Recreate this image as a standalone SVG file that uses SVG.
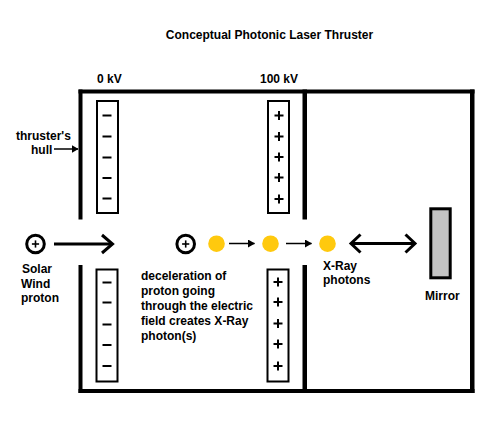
<svg xmlns="http://www.w3.org/2000/svg" width="502" height="422" viewBox="0 0 502 422">
<style>
text{font-family:"Liberation Sans",Arial,sans-serif;font-weight:bold;font-size:12px;fill:#000}
.wall{fill:#000}
.elec{fill:#fff;stroke:#000;stroke-width:2}
.sign{stroke:#000;stroke-width:2;fill:none}
.proton{fill:#fff;stroke:#000;stroke-width:3}
.photon{fill:#FFC90E}
.thick{stroke:#000;stroke-width:3;fill:none}
.thin{stroke:#000;stroke-width:1.5;fill:none}
</style>
<defs>
<g id="minus"><line class="sign" x1="-4.5" y1="0" x2="4.5" y2="0"/></g>
<g id="plus"><line class="sign" x1="-4.5" y1="0" x2="4.5" y2="0"/><line class="sign" x1="0" y1="-4.5" x2="0" y2="4.5"/></g>
<marker id="tri" markerWidth="7" markerHeight="8" refX="6.5" refY="4" orient="auto" markerUnits="userSpaceOnUse"><path d="M0,0 L7,4 L0,8 Z" fill="#000"/></marker>
</defs>
<rect width="502" height="422" fill="#fff"/>
<text x="269.5" y="38.5" text-anchor="middle">Conceptual Photonic Laser Thruster</text>

<g id="hull">
<rect class="wall" x="78.5" y="89.5" width="396" height="4"/>
<rect class="wall" x="78.5" y="389" width="396" height="4"/>
<rect class="wall" x="470" y="89.5" width="4.5" height="303.5"/>
<rect class="wall" x="78.5" y="89.5" width="4" height="130"/>
<rect class="wall" x="78.5" y="265" width="4" height="128"/>
<rect class="wall" x="302.5" y="89.5" width="4.5" height="130"/>
<rect class="wall" x="302.5" y="265" width="4.5" height="128"/>
</g>

<g id="label-0kv"><text x="97" y="83">0 kV</text></g>
<g id="label-100kv"><text x="260" y="83">100 kV</text></g>

<g id="electrode-neg-top">
<rect class="elec" x="97" y="101" width="21" height="112"/>
<use href="#minus" x="107" y="115.5"/><use href="#minus" x="107" y="136.5"/><use href="#minus" x="107" y="157.5"/><use href="#minus" x="107" y="178"/><use href="#minus" x="107" y="198.5"/>
</g>
<g id="electrode-pos-top">
<rect class="elec" x="268" y="101" width="21" height="112"/>
<use href="#plus" x="279" y="115.5"/><use href="#plus" x="279" y="136.5"/><use href="#plus" x="279" y="157"/><use href="#plus" x="279" y="177.5"/><use href="#plus" x="279" y="199"/>
</g>
<g id="electrode-neg-bottom">
<rect class="elec" x="96.5" y="269.5" width="21" height="112"/>
<use href="#minus" x="107" y="282.5"/><use href="#minus" x="107" y="302.5"/><use href="#minus" x="107" y="324.5"/><use href="#minus" x="107" y="345"/><use href="#minus" x="107" y="366"/>
</g>
<g id="electrode-pos-bottom">
<rect class="elec" x="267.5" y="269.5" width="21" height="112"/>
<use href="#plus" x="278" y="282"/><use href="#plus" x="278" y="302"/><use href="#plus" x="278" y="323.5"/><use href="#plus" x="278" y="344"/><use href="#plus" x="278" y="366"/>
</g>

<g id="hull-label">
<text x="16" y="140">thruster's</text>
<text x="31" y="154">hull</text>
</g>

<g id="solar-proton">
<circle class="proton" cx="35.5" cy="244" r="8.8"/>
<use href="#plus" x="35.5" y="244" transform="translate(35.5 244) scale(0.8) translate(-35.5 -244)"/>
<text x="22" y="273">Solar</text>
<text x="21" y="288">Wind</text>
<text x="21" y="302">proton</text>
</g>

<g id="proton-2">
<circle class="proton" cx="185.7" cy="244" r="8.8"/>
<use href="#plus" x="185.7" y="244" transform="translate(185.7 244) scale(0.8) translate(-185.7 -244)"/>
</g>

<g id="photon-1"><circle class="photon" cx="216.5" cy="243.7" r="8.3"/></g>
<g id="photon-2"><circle class="photon" cx="270.5" cy="243.7" r="8.3"/></g>
<g id="photon-3"><circle class="photon" cx="327.5" cy="243.7" r="8.3"/></g>

<g id="mirror">
<rect x="430.8" y="208.8" width="19.4" height="69" fill="#C3C3C3" stroke="#000" stroke-width="3"/>
<text x="425" y="300">Mirror</text>
</g>

<g id="xray-label">
<text x="323" y="270">X-Ray</text>
<text x="323" y="284">photons</text>
</g>

<g id="decel-label">
<text x="141" y="280">deceleration of</text>
<text x="141" y="295">proton going</text>
<text x="141" y="310">through the electric</text>
<text x="141" y="325">field creates X-Ray</text>
<text x="141" y="340">photon(s)</text>
</g>

<g id="connectors">
<line class="thin" x1="54" y1="149" x2="78" y2="149" marker-end="url(#tri)"/>
<line class="thick" x1="54" y1="244" x2="112" y2="244"/>
<polyline class="thick" points="102,235 112.5,244 102,253"/>
<line class="thin" x1="229" y1="243.5" x2="254.5" y2="243.5" marker-end="url(#tri)"/>
<line class="thin" x1="286" y1="243.5" x2="311.5" y2="243.5" marker-end="url(#tri)"/>
<line class="thick" x1="351" y1="243.5" x2="415" y2="243.5"/>
<polyline class="thick" points="360.5,234.5 351,243.5 360.5,252.5"/>
<polyline class="thick" points="405.5,234.5 415,243.5 405.5,252.5"/>
</g>
</svg>
